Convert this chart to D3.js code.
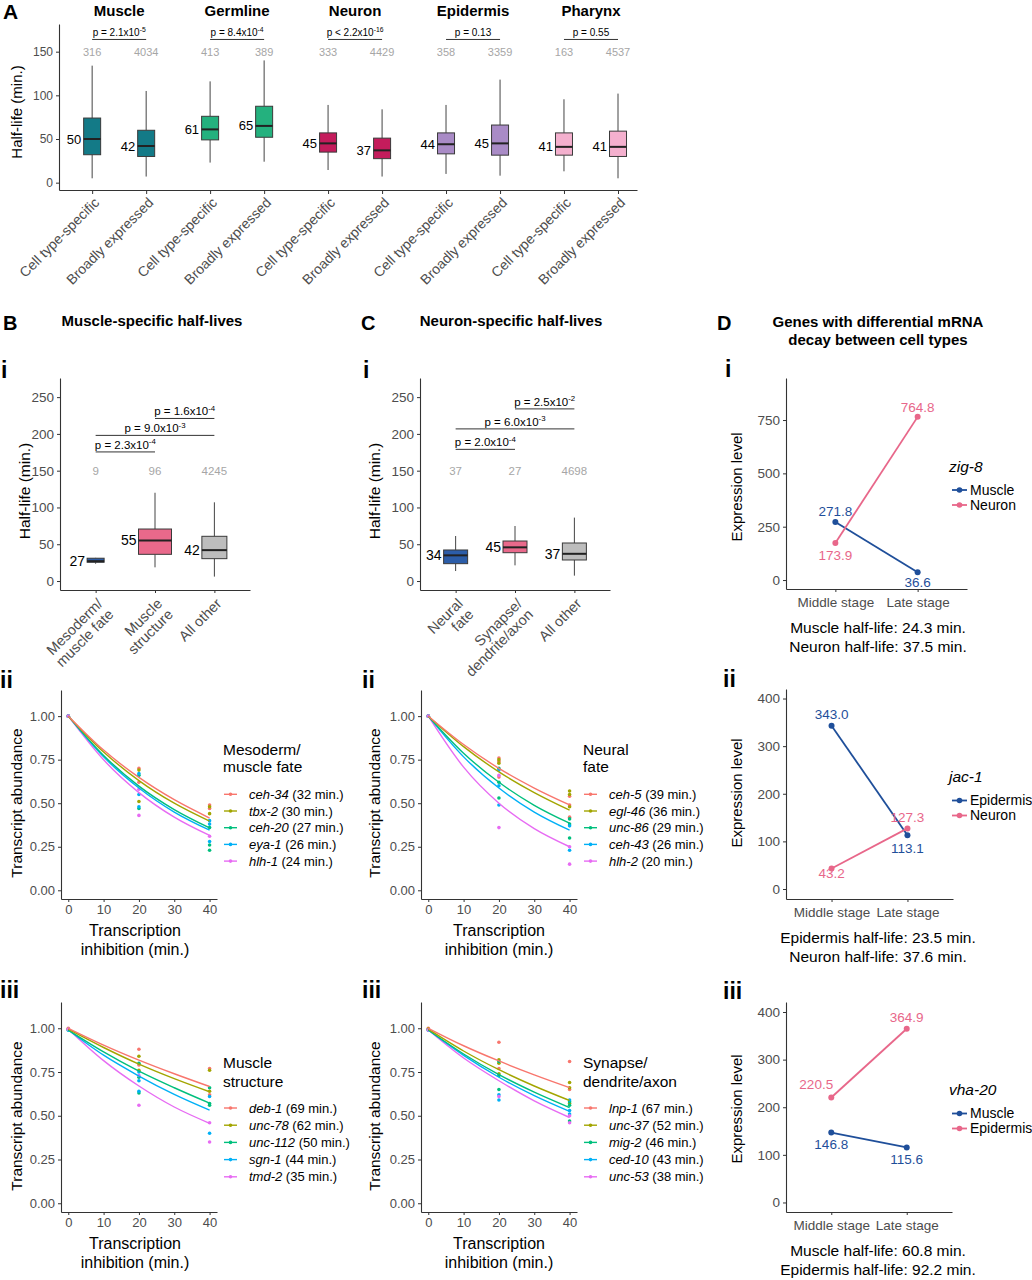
<!DOCTYPE html>
<html>
<head>
<meta charset="utf-8">
<script src="https://cdn.jsdelivr.net/npm/d3@7"></script>
<style>
  body { margin: 0; background: #fff; }
</style>
</head>
<body>
<div id="chart"></div>
<script>
// ---------- Panel A: half-lives per tissue ----------
const groupsA = ["Muscle", "Germline", "Neuron", "Epidermis", "Pharynx"];
const subsetsA = ["Cell type-specific", "Broadly expressed"];
const countsA = [316, 4034, 413, 389, 333, 4429, 358, 3359, 163, 4537];
// [lower whisker, Q1, median, Q3, upper whisker]
const statsA = [
    [5, 32, 50, 74, 134], [7, 30, 42, 60, 105],
    [23, 49, 61, 76, 116], [24, 52, 65, 87.5, 140],
    [14.5, 35, 45, 57, 89], [7, 27.5, 37, 51, 84],
    [10, 33, 44, 57, 89], [8, 31.5, 45, 66, 118],
    [13, 31.5, 41, 57, 95.5], [5, 30, 41, 59, 102]
];
const medianLabelsA = [50, 42, 61, 65, 45, 37, 44, 45, 41, 41];
const pMantissaA = ["p = 2.1x10", "p = 8.4x10", "p < 2.2x10", "p = 0.13", "p = 0.55"];
const pExponentA = ["-5", "-4", "-16", "", ""];
const yTicksA = [0, 50, 100, 150];

// ---------- Panel B i / C i ----------
const yTicksBox = [0, 50, 100, 150, 200, 250];
const categoriesB = [["Mesoderm/", "muscle fate"], ["Muscle", "structure"], ["All other"]];
const statsB = [[23.5, 25.5, 27, 31, 31.5], [18.6, 36.3, 55, 70.7, 120], [6, 30.4, 42, 60.8, 107]];
const medianLabelsB = [27, 55, 42];
const countsB = [9, 96, 4245];
const pairsB = [[0, 1], [0, 2], [1, 2]];
const pMantissaB = ["p = 2.3x10", "p = 9.0x10", "p = 1.6x10"];
const pExponentB = ["-4", "-3", "-4"];

const categoriesC = [["Neural", "fate"], ["Synapse/", "dendrite/axon"], ["All other"]];
const statsC = [[13.6, 23.6, 34.9, 42.2, 61.2], [21.3, 38.5, 45.8, 54.4, 74.8], [7.3, 28.6, 37, 51.7, 86.2]];
const medianLabelsC = [34, 45, 37];
const countsC = [37, 27, 4698];
const pairsC = [[0, 1], [0, 2], [1, 2]];
const pMantissaC = ["p = 2.0x10", "p = 6.0x10", "p = 2.5x10"];
const pExponentC = ["-4", "-3", "-2"];

// ---------- Decay panels (ii, iii) ----------
const timesDecay = [0, 10, 20, 30, 40];
const yTicksDecay = [0, 0.25, 0.5, 0.75, 1];
const xTicksDecay = [0, 10, 20, 30, 40];

const genesBii = ["ceh-34", "tbx-2", "ceh-20", "eya-1", "hlh-1"];
const halfLivesBii = [32, 30, 27, 26, 24];
const curvesBii = [
    [1, 0.805, 0.648, 0.52, 0.415],
    [1, 0.794, 0.63, 0.50, 0.397],
    [1, 0.774, 0.598, 0.463, 0.358],
    [1, 0.766, 0.587, 0.449, 0.345],
    [1, 0.749, 0.561, 0.42, 0.315]
];
const dots20Bii = [[0.70, 0.62], [0.69, 0.51], [0.66, 0.47], [0.67, 0.55, 0.48], [0.58, 0.43]];
const dots40Bii = [[0.49, 0.47], [0.48, 0.44], [0.36, 0.23, 0.26], [0.40, 0.38, 0.28], [0.31]];

const genesCii = ["ceh-5", "egl-46", "unc-86", "ceh-43", "hlh-2"];
const halfLivesCii = [39, 36, 29, 26, 20];
const curvesCii = [
    [1, 0.837, 0.70, 0.587, 0.49],
    [1, 0.825, 0.68, 0.561, 0.46],
    [1, 0.787, 0.62, 0.488, 0.385],
    [1, 0.766, 0.587, 0.449, 0.345],
    [1, 0.707, 0.50, 0.354, 0.25]
];
const dots20Cii = [[0.76, 0.74, 0.65], [0.75, 0.73], [0.70, 0.62, 0.53], [0.69, 0.60, 0.49], [0.66, 0.36]];
const dots40Cii = [[0.54, 0.49, 0.42], [0.57, 0.55, 0.48], [0.41, 0.38, 0.30], [0.37, 0.23], [0.25, 0.15]];

const genesBiii = ["deb-1", "unc-78", "unc-112", "sgn-1", "tmd-2"];
const halfLivesBiii = [69, 62, 50, 44, 35];
const curvesBiii = [
    [1, 0.904, 0.818, 0.74, 0.667],
    [0.995, 0.89, 0.795, 0.712, 0.637],
    [0.99, 0.865, 0.755, 0.66, 0.572],
    [0.99, 0.846, 0.727, 0.622, 0.532],
    [0.995, 0.815, 0.67, 0.55, 0.457]
];
const dots20Biii = [[0.88, 0.79], [0.84, 0.76], [0.80, 0.72, 0.63], [0.75, 0.70, 0.64], [0.73, 0.56]];
const dots40Biii = [[0.77, 0.62], [0.76, 0.64], [0.66, 0.57, 0.56], [0.61, 0.40], [0.46, 0.35]];

const genesCiii = ["lnp-1", "unc-37", "mig-2", "ced-10", "unc-53"];
const halfLivesCiii = [67, 52, 46, 43, 38];
const curvesCiii = [
    [1, 0.90, 0.813, 0.734, 0.661],
    [0.995, 0.87, 0.763, 0.67, 0.587],
    [0.99, 0.853, 0.735, 0.635, 0.547],
    [0.99, 0.845, 0.72, 0.615, 0.525],
    [0.99, 0.83, 0.70, 0.585, 0.49]
];
const dots20Ciii = [[0.92, 0.77], [0.82, 0.80, 0.74], [0.81, 0.73, 0.65], [0.62, 0.59], [0.61]];
const dots40Ciii = [[0.81, 0.65], [0.69, 0.66, 0.57], [0.58, 0.56, 0.47], [0.59, 0.53, 0.51], [0.50, 0.46]];

// ---------- Panel D ----------
const stagesD = ["Middle stage", "Late stage"];
const genesD = ["zig-8", "jac-1", "vha-20"];
const cellTypesD = [["Muscle", "Neuron"], ["Epidermis", "Neuron"], ["Muscle", "Epidermis"]];
const levelsD = [
    [[271.8, 36.6], [173.9, 764.8]],
    [[343.0, 113.1], [43.2, 127.3]],
    [[146.8, 115.6], [220.5, 364.9]]
];
const halfLifeTextD = [
    ["Muscle half-life: 24.3 min.", "Neuron half-life: 37.5 min."],
    ["Epidermis half-life: 23.5 min.", "Neuron half-life: 37.6 min."],
    ["Muscle half-life: 60.8 min.", "Epidermis half-life: 92.2 min."]
];
const yTicksD = [[0, 250, 500, 750], [0, 100, 200, 300, 400], [0, 100, 200, 300, 400]];

// ---------- Styles ----------
const FONT = "'Liberation Sans', Arial, Helvetica, sans-serif";
const tissueColors = ["#137a87", "#24b17e", "#c41c5c", "#a98bc6", "#f4b0ce"];
const subsetColors = ["#2c5da8", "#e9698b", "#bdbdbd"];
const hue5 = ["#F8766D", "#A3A500", "#00BF7D", "#00B0F6", "#E76BF3"];
const dColors = ["#1f4f9a", "#e8678a"];

const svg = d3.select("#chart")
    .append("svg")
    .attr("width", 1032)
    .attr("height", 1280)
    .style("font-family", FONT);

function styleAxis(g, fontSize) {
    g.attr("font-family", null).attr("font-size", fontSize);
    g.select(".domain").attr("stroke", "#333").attr("stroke-width", 1.1);
    g.selectAll(".tick line").attr("stroke", "#333");
    g.selectAll(".tick text").attr("fill", "#4d4d4d");
}

function label(x, y, text, size, opts = {}) {
    return svg.append("text")
        .attr("x", x)
        .attr("y", y)
        .attr("font-size", size)
        .attr("font-weight", opts.bold ? "bold" : null)
        .attr("font-style", opts.italic ? "italic" : null)
        .attr("text-anchor", opts.anchor || "start")
        .attr("fill", opts.fill || "#000")
        .text(text);
}

function yTitle(x, y, text, size) {
    svg.append("text")
        .attr("transform", `translate(${x},${y}) rotate(-90)`)
        .attr("text-anchor", "middle")
        .attr("font-size", size)
        .text(text);
}

function pText(sel, mant, exp, size) {
    sel.append("tspan").text(mant);
    if (exp) sel.append("tspan").attr("dy", -size * 0.4).attr("font-size", size * 0.68).text(exp);
}

function drawBox(g, cx, w, s, fill, y) {
    g.append("line").attr("x1", cx).attr("x2", cx).attr("y1", y(s[0])).attr("y2", y(s[1]))
        .attr("stroke", "#444").attr("stroke-width", 1);
    g.append("line").attr("x1", cx).attr("x2", cx).attr("y1", y(s[3])).attr("y2", y(s[4]))
        .attr("stroke", "#444").attr("stroke-width", 1);
    g.append("rect")
        .attr("x", cx - w / 2).attr("y", y(s[3]))
        .attr("width", w).attr("height", y(s[1]) - y(s[3]))
        .attr("fill", fill).attr("stroke", "#3a3a3a").attr("stroke-width", 1);
    g.append("line").attr("x1", cx - w / 2).attr("x2", cx + w / 2).attr("y1", y(s[2])).attr("y2", y(s[2]))
        .attr("stroke", "#222").attr("stroke-width", 2);
}

// ================= Panel A =================
label(3, 19, "A", 21, { bold: true });
const yA = d3.scaleLinear().domain([-8.4, 181.7]).range([190, 24]);
const xA = d3.scaleLinear().domain([-0.51, 4.39]).range([59, 637]);
const dodgeA = 0.229;
const posA = [];
groupsA.forEach((grp, gi) => subsetsA.forEach((s, j) => posA.push(gi + (j ? dodgeA : -dodgeA))));

const gA = svg.append("g");
const yAxisA = gA.append("g")
    .attr("transform", "translate(59,0)")
    .call(d3.axisLeft(yA).tickValues(yTicksA).tickSize(3).tickSizeOuter(0));
styleAxis(yAxisA, 12);

const xAxisA = gA.append("g")
    .attr("transform", "translate(0,190)")
    .call(d3.axisBottom(xA).tickValues(posA).tickSize(4).tickSizeOuter(0)
        .tickFormat((d, i) => subsetsA[i % 2]));
styleAxis(xAxisA, 14);
xAxisA.selectAll(".tick text")
    .attr("x", 0).attr("y", 0).attr("dy", "0.35em")
    .attr("text-anchor", "end")
    .attr("transform", "translate(4,10) rotate(-45)");

yTitle(22, 112, "Half-life (min.)", 15);

posA.forEach((p, i) => {
    const cx = xA(p);
    drawBox(gA, cx, 17, statsA[i], tissueColors[Math.floor(i / 2)], yA);
    gA.append("text")
        .attr("x", cx - 11).attr("y", yA(statsA[i][2])).attr("dy", "0.35em")
        .attr("text-anchor", "end").attr("font-size", 13)
        .text(medianLabelsA[i]);
    gA.append("text")
        .attr("x", cx).attr("y", yA(150)).attr("dy", "0.35em")
        .attr("text-anchor", "middle").attr("font-size", 11).attr("fill", "#a6a6a6")
        .text(countsA[i]);
});

groupsA.forEach((grp, gi) => {
    label(xA(gi), 16, grp, 15, { bold: true, anchor: "middle" });
    const x1 = xA(posA[gi * 2]), x2 = xA(posA[gi * 2 + 1]);
    gA.append("line")
        .attr("x1", x1).attr("x2", x2).attr("y1", yA(164)).attr("y2", yA(164))
        .attr("stroke", "#333").attr("stroke-width", 1);
    const t = gA.append("text")
        .attr("x", (x1 + x2) / 2).attr("y", yA(164) - 3)
        .attr("text-anchor", "middle").attr("font-size", 10);
    pText(t, pMantissaA[gi], pExponentA[gi], 10);
});

// ================= Panels B i / C i =================
function boxPanel(L, cats, stats, medLabels, counts, pairs, pMant, pExp) {
    const y = d3.scaleLinear().domain([-12.2, 276]).range([L.y1, L.y0]);
    const x = d3.scalePoint().domain(d3.range(cats.length)).range([L.x0, L.x1]).padding(0.6);
    const g = svg.append("g");

    const yAxis = g.append("g")
        .attr("transform", `translate(${L.x0},0)`)
        .call(d3.axisLeft(y).tickValues(yTicksBox).tickSize(3).tickSizeOuter(0));
    styleAxis(yAxis, 13.5);

    const xAxis = g.append("g")
        .attr("transform", `translate(0,${L.y1})`)
        .call(d3.axisBottom(x).tickSize(3).tickSizeOuter(0).tickFormat(""));
    styleAxis(xAxis, 14.5);
    xAxis.selectAll(".tick").each(function (d) {
        const t = d3.select(this).append("text")
            .attr("text-anchor", "end").attr("fill", "#4d4d4d")
            .attr("transform", "translate(4,11) rotate(-45)");
        cats[d].forEach((line, k) => t.append("tspan")
            .attr("x", 0).attr("dy", k ? "1.05em" : "0.35em").text(line));
    });

    stats.forEach((s, i) => {
        drawBox(g, x(i), L.widths[i], s, subsetColors[i], y);
        g.append("text")
            .attr("x", x(i) - L.widths[i] / 2 - 2).attr("y", y(s[2])).attr("dy", "0.35em")
            .attr("text-anchor", "end").attr("font-size", 14)
            .text(medLabels[i]);
        g.append("text")
            .attr("x", x(i)).attr("y", y(150)).attr("dy", "0.35em")
            .attr("text-anchor", "middle").attr("font-size", 11.5).attr("fill", "#a6a6a6")
            .text(counts[i]);
    });

    pairs.forEach((pr, i) => {
        const yy = y(L.levels[i]);
        g.append("line")
            .attr("x1", x(pr[0])).attr("x2", x(pr[1])).attr("y1", yy).attr("y2", yy)
            .attr("stroke", "#333").attr("stroke-width", 1);
        const t = g.append("text")
            .attr("x", (x(pr[0]) + x(pr[1])) / 2).attr("y", yy - 3)
            .attr("text-anchor", "middle").attr("font-size", 11.5);
        pText(t, pMant[i], pExp[i], 11.5);
    });
}

label(3, 330, "B", 20, { bold: true });
label(152, 326, "Muscle-specific half-lives", 15, { bold: true, anchor: "middle" });
label(1, 378, "i", 23, { bold: true });
yTitle(30, 491, "Half-life (min.)", 15.5);
boxPanel({ x0: 60, x1: 250, y0: 378, y1: 590, widths: [17, 33, 25], levels: [175.5, 198, 221] },
    categoriesB, statsB, medianLabelsB, countsB, pairsB, pMantissaB, pExponentB);

label(361, 330, "C", 20, { bold: true });
label(511, 326, "Neuron-specific half-lives", 15, { bold: true, anchor: "middle" });
label(363, 378, "i", 23, { bold: true });
yTitle(380, 491, "Half-life (min.)", 15.5);
boxPanel({ x0: 420, x1: 610, y0: 378, y1: 590, widths: [24, 24, 24], levels: [179, 206.8, 234] },
    categoriesC, statsC, medianLabelsC, countsC, pairsC, pMantissaC, pExponentC);

// ================= Decay panels =================
function decayPanel(L, genes, halfLives, curves, dots20, dots40, titleLines) {
    const x = d3.scaleLinear().domain([-2.06, 42.1]).range([L.x0, L.x1]);
    const y = d3.scaleLinear().domain([-0.05, 1.15]).range([L.y1, L.y0]);
    const g = svg.append("g");

    const yAxis = g.append("g")
        .attr("transform", `translate(${L.x0},0)`)
        .call(d3.axisLeft(y).tickValues(yTicksDecay).tickFormat(d3.format(".2f")).tickSize(3).tickSizeOuter(0));
    styleAxis(yAxis, 13);
    const xAxis = g.append("g")
        .attr("transform", `translate(0,${L.y1})`)
        .call(d3.axisBottom(x).tickValues(xTicksDecay).tickSize(3).tickSizeOuter(0));
    styleAxis(xAxis, 13);

    const line = d3.line()
        .x((d, i) => x(timesDecay[i]))
        .y((d) => y(d))
        .curve(d3.curveMonotoneX);

    genes.forEach((gene, i) => {
        const pts = [[0, curves[i][0]]]
            .concat(dots20[i].map((v) => [20, v]))
            .concat(dots40[i].map((v) => [40, v]));
        g.selectAll(null)
            .data(pts)
            .join("circle")
            .attr("cx", (d) => x(d[0]))
            .attr("cy", (d) => y(d[1]))
            .attr("r", 1.8)
            .attr("fill", hue5[i]);
    });
    genes.slice().reverse().forEach((gene, ri) => {
        const i = genes.length - 1 - ri;
        g.append("path")
            .datum(curves[i])
            .attr("d", line)
            .attr("fill", "none")
            .attr("stroke", hue5[i])
            .attr("stroke-width", 1.4);
    });

    // axis titles
    const cxT = L.xTitle;
    label(cxT, L.y1 + 36.5, "Transcription", 16, { anchor: "middle" });
    label(cxT, L.y1 + 55.5, "inhibition (min.)", 16, { anchor: "middle" });

    // legend
    titleLines.forEach((t, k) => label(L.x1 + 6, L.y0 + L.legTitle[k], t, 15.5));
    genes.forEach((gene, i) => {
        const ly = L.y0 + L.legFirst + i * L.legStep;
        g.append("line")
            .attr("x1", L.x1 + 7).attr("x2", L.x1 + 20).attr("y1", ly).attr("y2", ly)
            .attr("stroke", hue5[i]).attr("stroke-width", 1.4);
        g.append("circle").attr("cx", L.x1 + 13.5).attr("cy", ly).attr("r", 1.8).attr("fill", hue5[i]);
        const t = g.append("text")
            .attr("x", L.x1 + 32).attr("y", ly).attr("dy", "0.35em").attr("font-size", 13);
        t.append("tspan").attr("font-style", "italic").text(gene);
        t.append("tspan").text(` (${halfLives[i]} min.)`);
    });
}

label(0, 688, "ii", 23, { bold: true });
yTitle(22, 803, "Transcript abundance", 15.5);
decayPanel({ x0: 61, x1: 217, y0: 690, y1: 899, xTitle: 135, legTitle: [64.5, 82.3], legFirst: 104.3, legStep: 16.7 },
    genesBii, halfLivesBii, curvesBii, dots20Bii, dots40Bii, ["Mesoderm/", "muscle fate"]);

label(362, 688, "ii", 23, { bold: true });
yTitle(380, 803, "Transcript abundance", 15.5);
decayPanel({ x0: 421, x1: 577, y0: 690, y1: 899, xTitle: 499, legTitle: [64.5, 82.3], legFirst: 104.3, legStep: 16.7 },
    genesCii, halfLivesCii, curvesCii, dots20Cii, dots40Cii, ["Neural", "fate"]);

label(0, 998, "iii", 23, { bold: true });
yTitle(22, 1116, "Transcript abundance", 15.5);
decayPanel({ x0: 61, x1: 217, y0: 1002, y1: 1212, xTitle: 135, legTitle: [66.3, 84.9], legFirst: 106, legStep: 17.2 },
    genesBiii, halfLivesBiii, curvesBiii, dots20Biii, dots40Biii, ["Muscle", "structure"]);

label(362, 998, "iii", 23, { bold: true });
yTitle(380, 1116, "Transcript abundance", 15.5);
decayPanel({ x0: 421, x1: 577, y0: 1002, y1: 1212, xTitle: 499, legTitle: [66.3, 84.9], legFirst: 106, legStep: 17.2 },
    genesCiii, halfLivesCiii, curvesCiii, dots20Ciii, dots40Ciii, ["Synapse/", "dendrite/axon"]);

// ================= Panel D =================
function linePanel(L, k) {
    const x = d3.scalePoint().domain(stagesD).range([L.x0, L.x1]).padding(0.6);
    const y = d3.scaleLinear().domain(L.yDomain).range([L.y1, L.y0]);
    const g = svg.append("g");

    const yAxis = g.append("g")
        .attr("transform", `translate(${L.x0},0)`)
        .call(d3.axisLeft(y).tickValues(yTicksD[k]).tickSize(3).tickSizeOuter(0));
    styleAxis(yAxis, 13.5);
    const xAxis = g.append("g")
        .attr("transform", `translate(0,${L.y1})`)
        .call(d3.axisBottom(x).tickSize(3).tickSizeOuter(0));
    styleAxis(xAxis, 13.5);
    xAxis.selectAll(".tick text").attr("y", 8).attr("dy", "0.71em");

    const line = d3.line().x((d, i) => x(stagesD[i])).y((d) => y(d));
    levelsD[k].forEach((vals, s) => {
        g.append("path")
            .datum(vals)
            .attr("d", line)
            .attr("fill", "none")
            .attr("stroke", dColors[s])
            .attr("stroke-width", 1.8);
        g.selectAll(null)
            .data(vals)
            .join("circle")
            .attr("cx", (d, i) => x(stagesD[i]))
            .attr("cy", (d) => y(d))
            .attr("r", 3)
            .attr("fill", dColors[s]);
        g.selectAll(null)
            .data(vals)
            .join("text")
            .attr("x", (d, i) => x(stagesD[i]) + L.nudgeX[s][i])
            .attr("y", (d, i) => y(d) + L.nudgeY[s][i])
            .attr("dy", "0.35em")
            .attr("text-anchor", "middle")
            .attr("font-size", 13.5)
            .attr("fill", dColors[s])
            .text((d) => d3.format(".1f")(d));
    });

    // legend
    const cy = (L.y0 + L.y1) / 2;
    label(949, cy - 17, genesD[k], 15.5, { italic: true }).attr("dy", "0.35em");
    cellTypesD[k].forEach((name, s) => {
        const ly = cy + 6.5 + s * 15;
        g.append("line").attr("x1", 952).attr("x2", 967).attr("y1", ly).attr("y2", ly)
            .attr("stroke", dColors[s]).attr("stroke-width", 1.8);
        g.append("circle").attr("cx", 959.5).attr("cy", ly).attr("r", 2.8).attr("fill", dColors[s]);
        g.append("text").attr("x", 970).attr("y", ly).attr("dy", "0.35em")
            .attr("font-size", 14).text(name);
    });

    halfLifeTextD[k].forEach((t, j) =>
        label(878, L.y1 + 44 + j * 19, t, 15.5, { anchor: "middle" }));
}

label(717, 330, "D", 20, { bold: true });
label(878, 327, "Genes with differential mRNA", 15, { bold: true, anchor: "middle" });
label(878, 345, "decay between cell types", 15, { bold: true, anchor: "middle" });

label(725, 377, "i", 23, { bold: true });
yTitle(742, 487, "Expression level", 15);
linePanel({ x0: 786, x1: 967, y0: 378, y1: 589, yDomain: [-42, 947],
    nudgeX: [[0, 0], [0, 0]], nudgeY: [[-11, 10], [12, -10]] }, 0);

label(723, 687, "ii", 23, { bold: true });
yTitle(742, 793, "Expression level", 15);
linePanel({ x0: 786, x1: 953, y0: 689, y1: 899, yDomain: [-21, 420],
    nudgeX: [[0, 0], [0, 0]], nudgeY: [[-11, 13], [5, -11]] }, 1);

label(723, 999, "iii", 23, { bold: true });
yTitle(742, 1109, "Expression level", 15);
linePanel({ x0: 786, x1: 952, y0: 1002, y1: 1212, yDomain: [-20, 421],
    nudgeX: [[0, 0], [-15, 0]], nudgeY: [[12, 12], [-13, -11]] }, 2);
</script>
</body>
</html>
